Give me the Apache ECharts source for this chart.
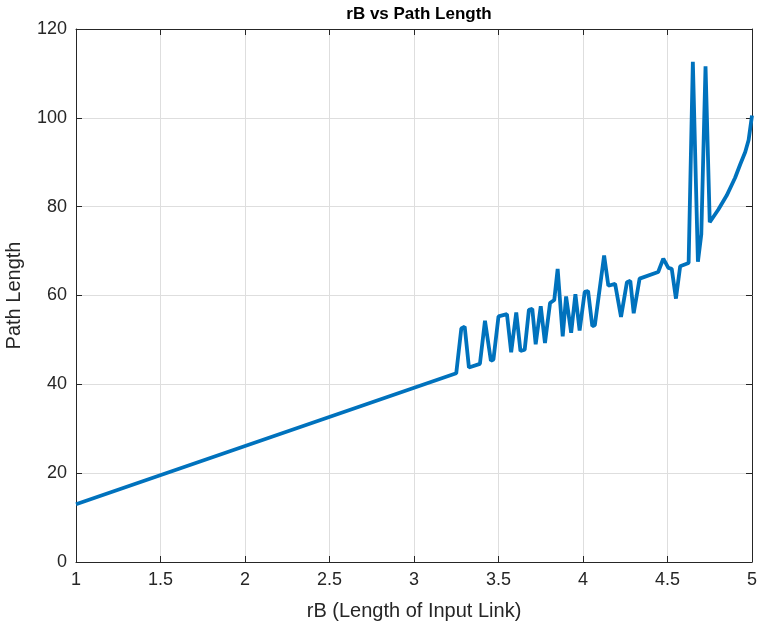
<!DOCTYPE html>
<html>
<head>
    <meta charset="utf-8">
    <title>rB vs Path Length</title>
    <script src="https://cdn.jsdelivr.net/npm/echarts@6/dist/echarts.min.js"></script>
    <style>
        html, body { margin: 0; padding: 0; background: #fff; }
        #main { width: 760px; height: 630px; }
    </style>
</head>
<body>
    <div id="main"></div>
<script type="text/javascript">
    // values
    var rB = [1, 3.25, 3.28, 3.30, 3.325, 3.39, 3.42, 3.455, 3.47, 3.50, 3.55, 3.575, 3.605, 3.63, 3.655,
        3.68, 3.70, 3.72, 3.75, 3.775, 3.805, 3.83, 3.85, 3.88, 3.90, 3.93, 3.955, 3.98, 4.01, 4.03,
        4.055, 4.07, 4.125, 4.15, 4.19, 4.225, 4.26, 4.28, 4.30, 4.335, 4.445, 4.475, 4.505, 4.525,
        4.55, 4.575, 4.625, 4.65, 4.68, 4.70, 4.725, 4.75, 4.80, 4.85, 4.90, 4.93, 4.96, 4.98, 5.0];
    var pathLength = [13, 42.5, 52.6, 53, 43.8, 44.6, 54.3, 45.3, 45.6, 55.3, 55.8, 47.2, 56.2, 47.5, 47.8,
        56.8, 57, 49, 57.6, 49.3, 58.3, 59, 66, 50.8, 59.8, 51.6, 60.3, 52.1, 60.8, 61,
        53.1, 53.3, 69, 62.2, 62.6, 55.2, 63, 63.3, 56, 63.8, 65.3, 68.3, 66.2, 66,
        59.3, 66.6, 67.3, 112.6, 67.6, 73.8, 111.6, 76.5, 79.3, 82.5, 86.5, 89.5, 92.3, 95, 100.5];

    var axisColor = '#262626';
    var data = rB.map(function(x, i) { return [x, pathLength[i]]; });

    var chart = echarts.init(document.getElementById('main'));
    chart.setOption({
        animation: false,
        backgroundColor: '#fff',
        title: {
            text: 'rB vs Path Length',
            left: 414,
            textAlign: 'center',
            top: 1,
            textStyle: { fontFamily: 'Liberation Sans', fontSize: 17, fontWeight: 'bold', color: '#000' }
        },
        grid: { left: 76, right: 8, top: 29, bottom: 68, containLabel: false, outerBoundsMode: 'none' },
        xAxis: [{
            type: 'value', min: 1, max: 5, interval: 0.5,
            name: 'rB (Length of Input Link)',
            nameLocation: 'middle', nameGap: 39,
            nameTextStyle: { fontFamily: 'Liberation Sans', fontSize: 20, color: axisColor },
            axisLine: { show: true, onZero: false, lineStyle: { color: axisColor, width: 1 } },
            axisTick: { show: true, inside: true, length: 6, lineStyle: { color: axisColor } },
            axisLabel: { fontFamily: 'Liberation Sans', fontSize: 18, color: axisColor, margin: 9 },
            splitLine: { show: true, lineStyle: { color: '#dedede', width: 1 } }
        }, {
            type: 'value', min: 1, max: 5, interval: 0.5, position: 'top',
            axisLine: { show: true, onZero: false, lineStyle: { color: axisColor, width: 1 } },
            axisTick: { show: true, inside: true, length: 6, lineStyle: { color: axisColor } },
            axisLabel: { show: false },
            splitLine: { show: false }
        }],
        yAxis: [{
            type: 'value', min: 0, max: 120, interval: 20,
            name: 'Path Length',
            nameLocation: 'middle', nameGap: 52,
            nameTextStyle: { fontFamily: 'Liberation Sans', fontSize: 20, color: axisColor },
            axisLine: { show: true, onZero: false, lineStyle: { color: axisColor, width: 1 } },
            axisTick: { show: true, inside: true, length: 6, lineStyle: { color: axisColor } },
            axisLabel: { fontFamily: 'Liberation Sans', fontSize: 18, color: axisColor, margin: 9 },
            splitLine: { show: true, lineStyle: { color: '#dedede', width: 1 } }
        }, {
            type: 'value', min: 0, max: 120, interval: 20, position: 'right',
            axisLine: { show: true, onZero: false, lineStyle: { color: axisColor, width: 1 } },
            axisTick: { show: true, inside: true, length: 6, lineStyle: { color: axisColor } },
            axisLabel: { show: false },
            splitLine: { show: false }
        }],
        series: [{
            type: 'line',
            data: data,
            showSymbol: false,
            clip: true,
            lineStyle: { color: '#0072BD', width: 3.8 },
            itemStyle: { color: '#0072BD' }
        }]
    });
</script>
</body>
</html>
